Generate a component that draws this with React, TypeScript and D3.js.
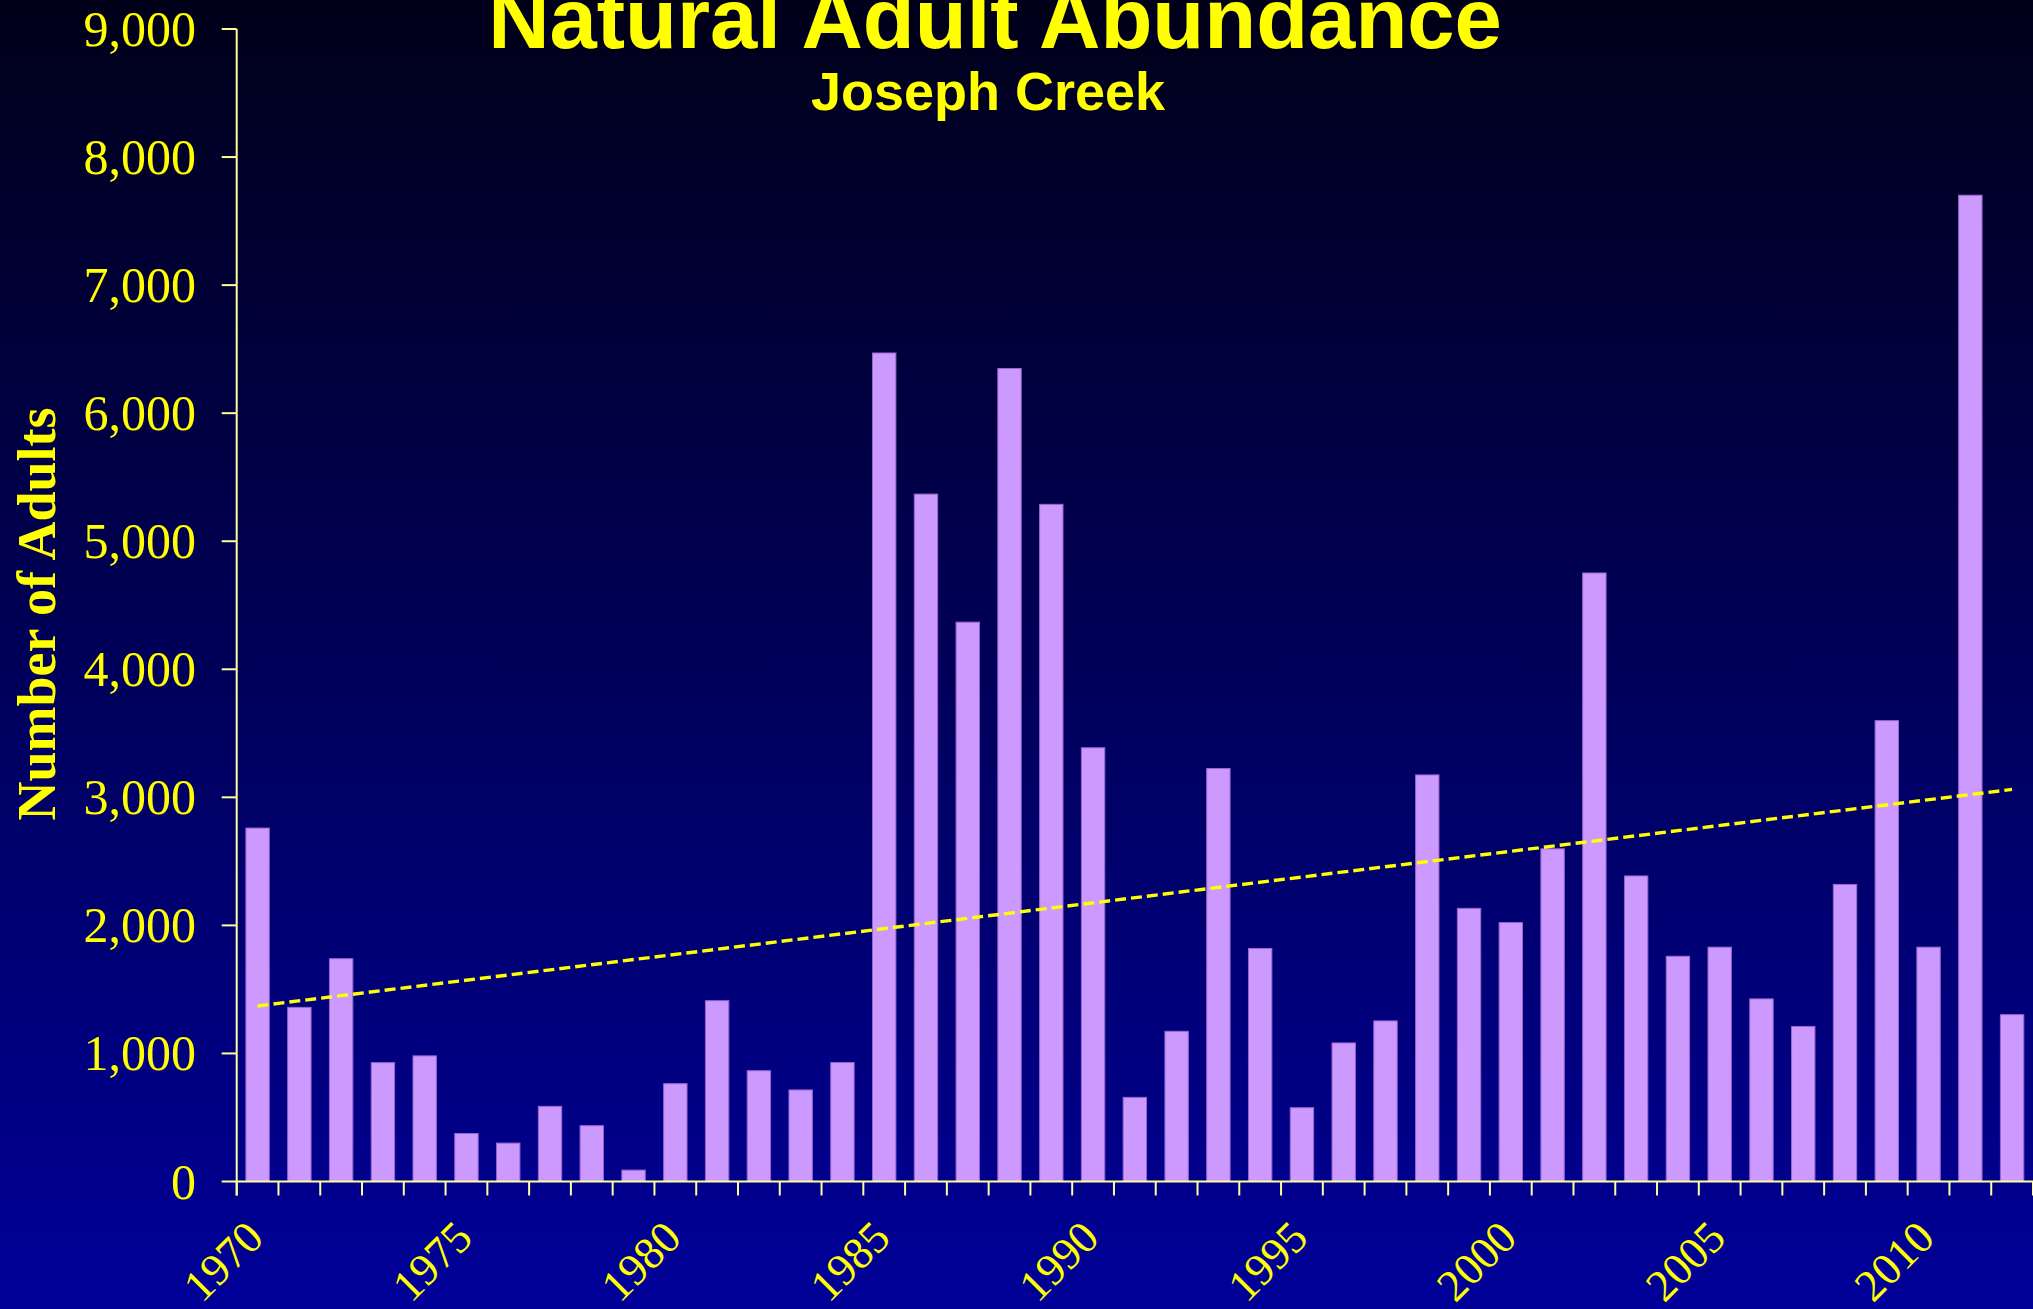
import React from "react";
import * as d3 from "d3";

const years: number[] = [
  1970, 1971, 1972, 1973, 1974, 1975, 1976, 1977, 1978, 1979,
  1980, 1981, 1982, 1983, 1984, 1985, 1986, 1987, 1988, 1989,
  1990, 1991, 1992, 1993, 1994, 1995, 1996, 1997, 1998, 1999,
  2000, 2001, 2002, 2003, 2004, 2005, 2006, 2007, 2008, 2009,
  2010, 2011, 2012,
];

const adults: number[] = [
  2760, 1360, 1740, 928, 981, 375, 300, 587, 436, 89,
  764, 1412, 865, 715, 929, 6470, 5368, 4368, 6349, 5288,
  3387, 657, 1173, 3225, 1820, 576, 1082, 1254, 3175, 2133,
  2022, 2598, 4752, 2386, 1759, 1830, 1426, 1211, 2320, 3599,
  1830, 7702, 1303,
];

const yTicks: number[] = [0, 1000, 2000, 3000, 4000, 5000, 6000, 7000, 8000, 9000];
const labelYears: number[] = [1970, 1975, 1980, 1985, 1990, 1995, 2000, 2005, 2010];

const title = "Natural Adult Abundance";
const subtitle = "Joseph Creek";
const yTitle = "Number of Adults";

const W = 2033;
const H = 1309;
const LEFT = 236.7;
const RIGHT = 2033;
const BOTTOM = 1181.5;
const TOP = 29;

export default function App() {
  const pad = 0.44;
  const x = d3
    .scaleBand<number>()
    .domain(years)
    .range([LEFT, RIGHT])
    .paddingInner(pad)
    .paddingOuter(pad / 2);
  const step = x.step();
  const y = d3.scaleLinear().domain([0, 9000]).range([BOTTOM, TOP]);
  const fmt = d3.format(",");

  // least-squares trend line over the series
  const n = years.length;
  const idx = years.map((_, i) => i);
  const mx = d3.mean(idx) as number;
  const my = d3.mean(adults) as number;
  let sxy = 0;
  let sxx = 0;
  idx.forEach((i) => {
    sxy += (i - mx) * (adults[i] - my);
    sxx += (i - mx) * (i - mx);
  });
  const slope = sxy / sxx;
  const icpt = my - slope * mx;
  const center = (yr: number) => (x(yr) as number) + x.bandwidth() / 2;
  const trend = d3
    .line<number>()
    .x((i) => center(years[i]))
    .y((i) => y(icpt + slope * i));
  const trendPts = [0, n - 1];

  const tickXs = d3.range(0, n + 1).map((i) => LEFT + i * step);
  const axisColor = "#FFFF99";
  const textColor = "#FFFF00";

  return (
    <svg
      width={W}
      height={H}
      style={{ position: "absolute", left: 0, top: 0, display: "block" }}
    >
      <defs>
        <linearGradient id="bg" x1="0" y1="0" x2="0" y2="1">
          <stop offset="0%" stopColor="#000019" />
          <stop offset="100%" stopColor="#000098" />
        </linearGradient>
      </defs>
      <rect x={0} y={0} width={W} height={H} fill="url(#bg)" />

      {/* bars */}
      {years.map((yr, i) => (
        <rect
          key={yr}
          x={x(yr) as number}
          y={y(adults[i])}
          width={x.bandwidth()}
          height={BOTTOM - y(adults[i])}
          fill="#CC99FF"
          stroke="#9966CC"
          strokeWidth={1}
        />
      ))}

      {/* trend line */}
      <path
        d={trend(trendPts) as string}
        fill="none"
        stroke="#FFFF00"
        strokeWidth={3.4}
        strokeDasharray="11 5"
      />

      {/* y axis */}
      <line x1={LEFT} x2={LEFT} y1={TOP} y2={BOTTOM + 14} stroke={axisColor} strokeWidth={2} />
      {yTicks.map((t) => (
        <g key={t}>
          <line x1={LEFT - 15} x2={LEFT} y1={y(t)} y2={y(t)} stroke={axisColor} strokeWidth={2} />
          <text
            x={196}
            y={y(t)}
            dy="0.34em"
            textAnchor="end"
            fill={textColor}
            fontFamily="'Liberation Serif', 'Times New Roman', serif"
            fontSize={50}
          >
            {fmt(t)}
          </text>
        </g>
      ))}

      {/* x axis */}
      <line x1={LEFT} x2={RIGHT} y1={BOTTOM} y2={BOTTOM} stroke={axisColor} strokeWidth={2} />
      {tickXs.map((tx, i) => (
        <line key={i} x1={tx} x2={tx} y1={BOTTOM} y2={BOTTOM + 14} stroke={axisColor} strokeWidth={2} />
      ))}
      {labelYears.map((yr) => {
        const ax = (x(yr) as number) - (step * pad) / 2 + 29;
        const ay = 1240;
        return (
          <text
            key={yr}
            transform={`translate(${ax},${ay}) rotate(-45)`}
            textAnchor="end"
            fill={textColor}
            fontFamily="'Liberation Serif', 'Times New Roman', serif"
            fontSize={45}
          >
            {yr}
          </text>
        );
      })}

      {/* titles */}
      <text
        x={995}
        y={48}
        textAnchor="middle"
        fill={textColor}
        fontFamily="'Liberation Sans', Arial, sans-serif"
        fontWeight="bold"
        fontSize={85}
      >
        {title}
      </text>
      <text
        x={988}
        y={110}
        textAnchor="middle"
        fill={textColor}
        fontFamily="'Liberation Sans', Arial, sans-serif"
        fontWeight="bold"
        fontSize={54}
      >
        {subtitle}
      </text>
      <text
        transform={`translate(55,614) rotate(-90)`}
        textAnchor="middle"
        fill={textColor}
        fontFamily="'Liberation Serif', 'Times New Roman', serif"
        fontWeight="bold"
        fontSize={54}
      >
        {yTitle}
      </text>
    </svg>
  );
}
